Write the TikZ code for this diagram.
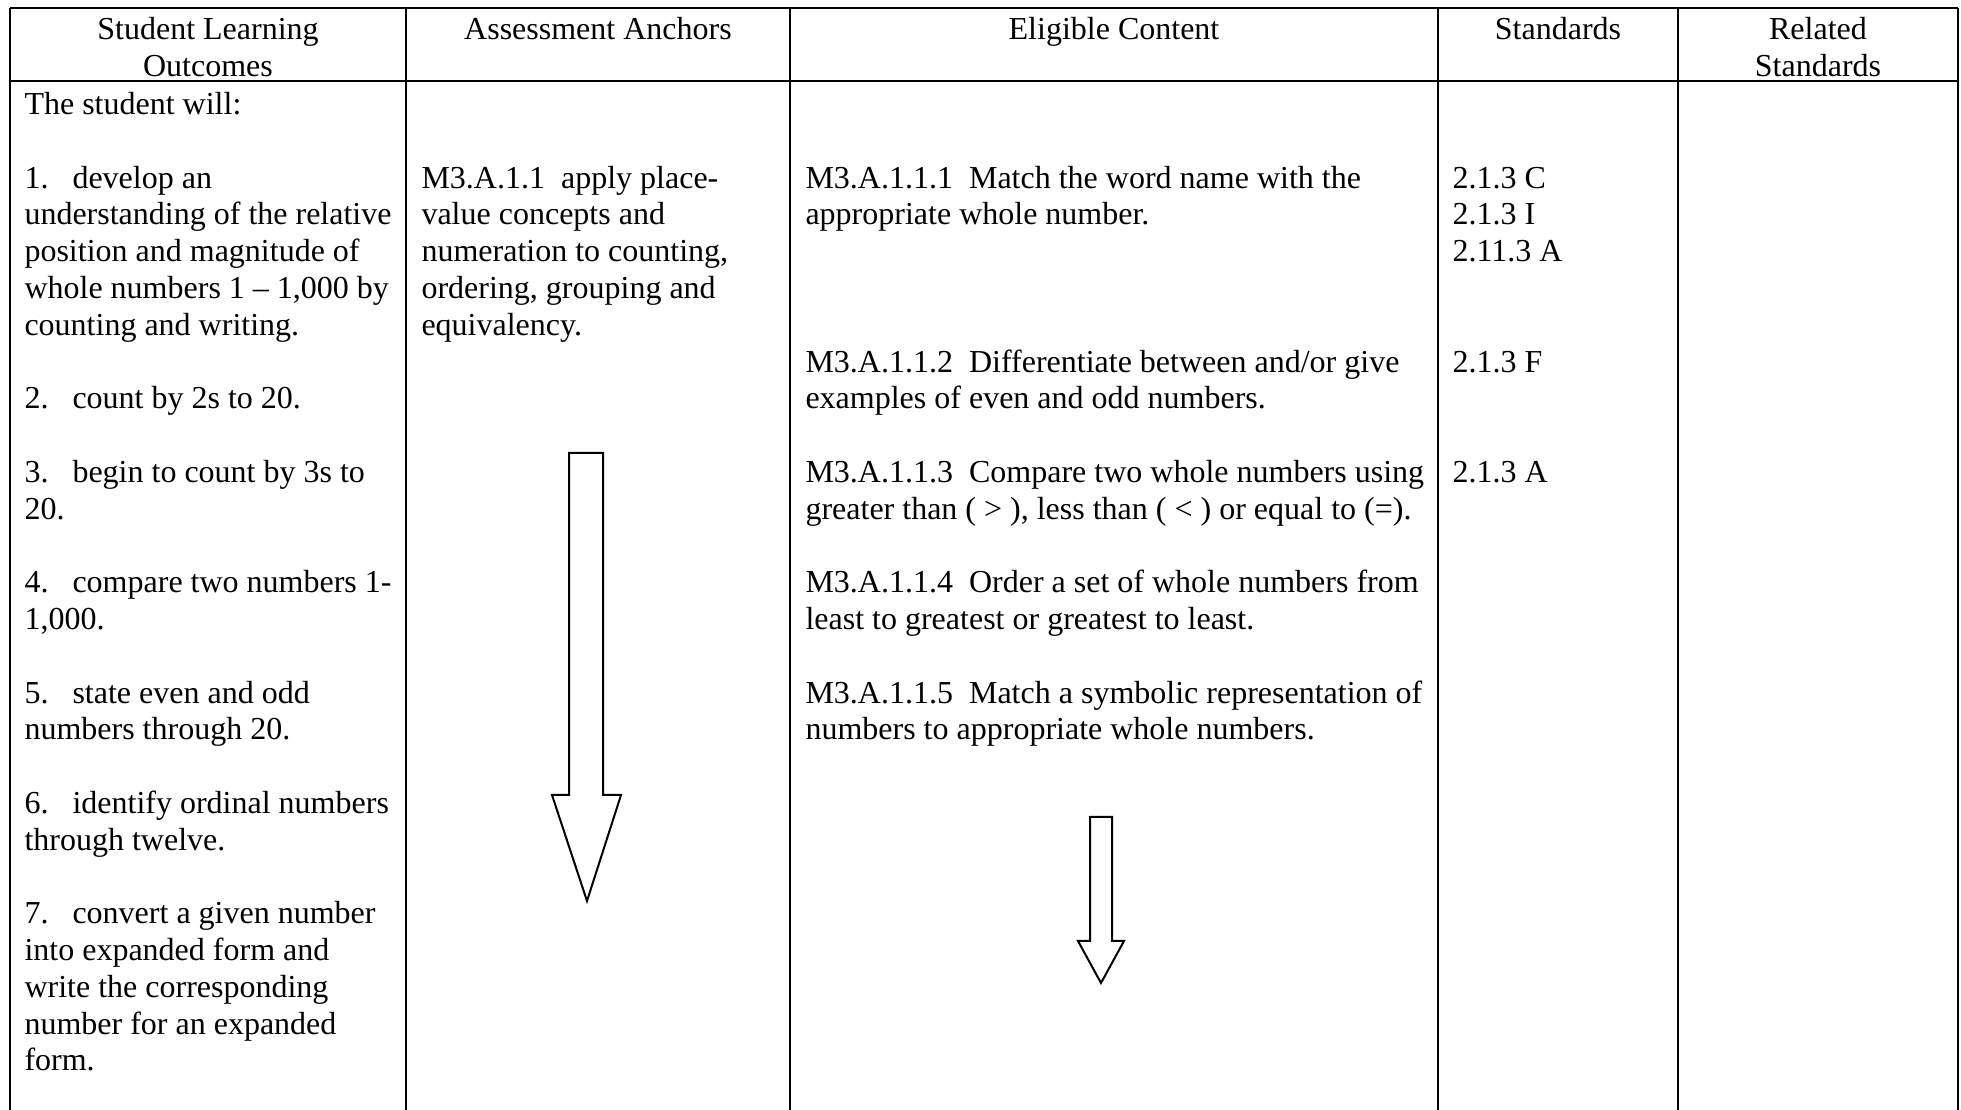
\documentclass[tikz,border=0pt]{standalone}
\usepackage{fontspec}
\setmainfont{Liberation Serif}
\begin{document}
\begin{tikzpicture}[x=0.375pt,y=-0.375pt,
  txt/.style={anchor=base west,inner sep=0pt,font=\fontsize{12pt}{13.76pt}\selectfont},
  hdr/.style={anchor=base,inner sep=0pt,font=\fontsize{12pt}{13.76pt}\selectfont},
  rule/.style={line width=0.7pt,black},
  outer/.style={line width=0.9pt,black},
  bigarrow/.style={line width=0.75pt,black,fill=white,line join=miter}]
\useasboundingbox (0,0) rectangle (1961,1110);
\fill[white] (0,0) rectangle (1961,1110);
% grid lines
\draw[outer] (10,8) -- (1958,8);
\draw[outer] (10,81) -- (1958,81);
\draw[outer] (10,8) -- (10,1110);
\draw[outer] (1958,8) -- (1958,1110);
\foreach \cx in {406,790,1438,1678} \draw[rule] (\cx,8) -- (\cx,1110);
% headers
\node[hdr] (h1a) at (208,39.6) {Student Learning};
\node[hdr] (h1b) at (208,76.3) {Outcomes};
\node[hdr] (h2) at (598,39.6) {Assessment Anchors};
\node[hdr] (h3) at (1114,39.6) {Eligible Content};
\node[hdr] (h4) at (1558,39.6) {Standards};
\node[hdr] (h5a) at (1818,39.6) {Related};
\node[hdr] (h5b) at (1818,76.3) {Standards};
\newcommand{\tline}[4]{\node[txt] (#1) at (#2,{114.6+36.78*#3}) {#4};}
\newcommand{\numb}[1]{\makebox[18pt][l]{#1}}
% column 1
\tline{a0}{24}{0}{The student will:}
\tline{a2}{24}{2}{\numb{1.}develop an}
\tline{a3}{24}{3}{understanding of the relative}
\tline{a4}{24}{4}{position and magnitude of}
\tline{a5}{24}{5}{whole numbers 1 -- 1,000 by}
\tline{a6}{24}{6}{counting and writing.}
\tline{a8}{24}{8}{\numb{2.}count by 2s to 20.}
\tline{a10}{24}{10}{\numb{3.}begin to count by 3s to}
\tline{a11}{24}{11}{20.}
\tline{a13}{24}{13}{\numb{4.}compare two numbers 1-}
\tline{a14}{24}{14}{1,000.}
\tline{a16}{24}{16}{\numb{5.}state even and odd}
\tline{a17}{24}{17}{numbers through 20.}
\tline{a19}{24}{19}{\numb{6.}identify ordinal numbers}
\tline{a20}{24}{20}{through twelve.}
\tline{a22}{24}{22}{\numb{7.}convert a given number}
\tline{a23}{24}{23}{into expanded form and}
\tline{a24}{24}{24}{write the corresponding}
\tline{a25}{24}{25}{number for an expanded}
\tline{a26}{24}{26}{form.}
% column 2
\tline{b2}{421}{2}{M3.A.1.1\hspace{0.5em}apply place-}
\tline{b3}{421}{3}{value concepts and}
\tline{b4}{421}{4}{numeration to counting,}
\tline{b5}{421}{5}{ordering, grouping and}
\tline{b6}{421}{6}{equivalency.}
% column 3
\tline{c2}{805}{2}{M3.A.1.1.1\hspace{0.5em}Match the word name with the}
\tline{c3}{805}{3}{appropriate whole number.}
\tline{c7}{805}{7}{M3.A.1.1.2\hspace{0.5em}Differentiate between and/or give}
\tline{c8}{805}{8}{examples of even and odd numbers.}
\tline{c10}{805}{10}{M3.A.1.1.3\hspace{0.5em}Compare two whole numbers using}
\tline{c11}{805}{11}{greater than ( > ), less than ( < ) or equal to (=).}
\tline{c13}{805}{13}{M3.A.1.1.4\hspace{0.5em}Order a set of whole numbers from}
\tline{c14}{805}{14}{least to greatest or greatest to least.}
\tline{c16}{805}{16}{M3.A.1.1.5\hspace{0.5em}Match a symbolic representation of}
\tline{c17}{805}{17}{numbers to appropriate whole numbers.}
% column 4
\tline{d2}{1452}{2}{2.1.3 C}
\tline{d3}{1452}{3}{2.1.3 I}
\tline{d4}{1452}{4}{2.11.3 A}
\tline{d7}{1452}{7}{2.1.3 F}
\tline{d10}{1452}{10}{2.1.3 A}
% block arrows
\draw[bigarrow] (569,453) -- (603,453) -- (603,795) -- (621,795) -- (587,901) -- (552,795) -- (569,795) -- cycle;
\draw[bigarrow] (1090,817) -- (1112,817) -- (1112,941) -- (1124,941) -- (1101,983) -- (1078,941) -- (1090,941) -- cycle;
\end{tikzpicture}
\end{document}
